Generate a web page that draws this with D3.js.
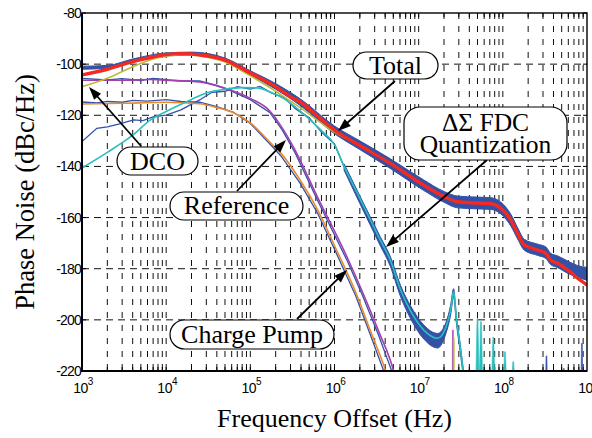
<!DOCTYPE html>
<html><head><meta charset="utf-8">
<script src="https://cdn.jsdelivr.net/npm/d3@7"></script>
<style>
html,body{margin:0;padding:0;background:#fff;}
svg{display:block;}
</style></head><body>
<svg id="c" width="592" height="438"></svg>
<script>
// ---------------- DATA (frequency in Hz, phase noise in dBc/Hz) ----------------
const xTickExponents = [3,4,5,6,7,8,9];
const yTickValues = [-80,-100,-120,-140,-160,-180,-200,-220];

// Total (red, analytical)
const totalNoise = [[1e3,-104.2],[2e3,-102],[4e3,-99],[7e3,-97.2],[1e4,-96.3],[1.5e4,-95.9],[2.5e4,-96.4],[5e4,-98.4],[1e5,-103.5],[2e5,-108.8],[3e5,-112.8],[4e5,-115],[6e5,-119.8],[1e6,-125.8],[2e6,-131.8],[4.6e6,-138.8],[1.15e7,-147.3],[2e7,-151.8],[2.9e7,-153.8],[5e7,-154.3],[7.2e7,-154.6],[9.5e7,-156.4],[1.25e8,-161],[1.5e8,-166.2],[1.8e8,-170.7],[2.6e8,-172.7],[3.25e8,-174],[3.7e8,-176.6],[4.5e8,-177.9],[5.9e8,-180.5],[7.8e8,-183.8],[1e9,-186.4]];
// DCO (olive)
const dcoNoise = [[1e3,-108.8],[2e3,-105.5],[4e3,-101],[7e3,-98],[1e4,-96.9],[1.5e4,-96.3],[2.5e4,-96.8],[5e4,-99.2],[1e5,-104.6],[2e5,-110.6],[3e5,-114.5],[4e5,-117.2],[6e5,-121.5],[1e6,-126.6],[1.4e6,-129.2]];
// Delta-Sigma FDC quantization (cyan)
const quantNoise = [[1e3,-140.6],[2e3,-134.5],[4e3,-127.8],[6.4e3,-122],[1e4,-118.5],[2e4,-113.8],[3e4,-111.3],[5e4,-109.8],[8e4,-109.2],[1.2e5,-109.3],[1.7e5,-110.8],[2.5e5,-113.5],[3.5e5,-117],[5e5,-121.5],[7e5,-126],[1e6,-131.5],[1.3e6,-140],[2e6,-152.5],[3.5e6,-168.8],[4.6e6,-176.6],[6.1e6,-188.3],[8e6,-196.5],[1.15e7,-204],[1.68e7,-207.2],[2.1e7,-203],[2.4e7,-196],[2.6e7,-189],[2.8e7,-199],[3.1e7,-210],[3.5e7,-224]];
// Reference (purple)
const refNoise = [[1e3,-106.3],[3e3,-106.3],[6.4e3,-106],[1e4,-106.3],[2.5e4,-107],[4e4,-108.5],[5.8e4,-110.1],[1e5,-113.4],[1.7e5,-118.3],[2.4e5,-125],[3.4e5,-133.6],[6.2e5,-151.6],[1.43e6,-175.9],[2.15e6,-189.1],[3.34e6,-204.4],[5.04e6,-220],[5.6e6,-226]];
// Charge pump (orange)
const cpNoise = [[1e3,-115.6],[3e3,-115.3],[1e4,-114.9],[2.5e4,-115.5],[4e4,-117],[6.3e4,-119],[1e5,-123],[1.8e5,-131.3],[2.3e5,-134.8],[3.9e5,-145.3],[6.3e5,-157],[1.03e6,-171.9],[1.78e6,-189.1],[2.68e6,-204.4],[4.05e6,-220],[4.5e6,-225]];

// Simulated (blue) traces
const totalSimBand = [[1e3,-100.8,-102],[2e3,-100.5,-101.6],[4e3,-98,-99.2],[1e4,-95.6,-96.8],[2e4,-95.3,-96.5],[5e4,-97.6,-99],[1e5,-102.6,-104.2],[2e5,-107.6,-109.8],[4e5,-113.8,-116.4],[1e6,-124.2,-127.2],[2e6,-130,-133.4],[4.6e6,-137,-140.8],[1.15e7,-145.3,-149.4],[2e7,-149.8,-154],[2.9e7,-151.6,-156.2],[5e7,-152,-156.6],[7.2e7,-152.2,-156.8],[9.5e7,-154,-158.6],[1.25e8,-158.8,-163.4],[1.5e8,-164,-168.4],[1.8e8,-168.5,-172.8],[2.6e8,-170.4,-174.8],[3.25e8,-171.5,-176],[3.7e8,-174,-178.4],[4.5e8,-175,-179.6],[5.9e8,-177,-181.8],[7.8e8,-178.8,-183.4],[1e9,-179.5,-184.5]];
const quantSim = [[1e3,-130.3],[1.5e3,-125.1],[2e3,-124.5],[2.8e3,-123.4],[4.1e3,-121.8],[5.3e3,-122.1],[7e3,-120.6],[1e4,-119.9],[1.5e4,-117.9],[2.5e4,-114],[3.5e4,-111],[5e4,-110.6],[7e4,-108.8],[1e5,-109.8],[1.3e5,-108.7],[1.8e5,-111.3],[2.5e5,-113],[3.5e5,-117.6],[5e5,-121],[7e5,-126.6],[1e6,-131.2],[1.3e6,-140.2]];
const quantSimBand = [[1.3e6,-139,-141.5],[2e6,-151.5,-154.5],[3.5e6,-167.5,-171],[4.6e6,-175.2,-179],[6.1e6,-186.6,-191],[8e6,-194.5,-199.5],[1.15e7,-202,-207.5],[1.68e7,-205.3,-211],[2.1e7,-201.2,-205.5],[2.4e7,-194.2,-198],[2.6e7,-187.8,-191],[2.8e7,-198,-201],[3.1e7,-209,-212],[3.5e7,-223,-226]];
const refSim = [[1e3,-105.6],[2e3,-106.2],[3e3,-105.7],[5e3,-106.4],[7e3,-105.6],[1e4,-106.1],[1.5e4,-106.6],[2.5e4,-106.6],[4e4,-108.3],[5.8e4,-110.4],[1e5,-113.9],[1.7e5,-118.9],[2.4e5,-125.8],[3.4e5,-134.6],[6.2e5,-152.8],[1.43e6,-177.2],[2.15e6,-190.5],[3.34e6,-206],[5.04e6,-222],[5.6e6,-226]];
const cpSim = [[1e3,-114.8],[1.5e3,-115.2],[2e3,-114.6],[3e3,-114.9],[4e3,-114.2],[6e3,-114.5],[1e4,-113.9],[1.5e4,-114.6],[2.5e4,-114.9],[4e4,-116.6],[6.3e4,-118.8],[1e5,-123.2],[1.8e5,-132],[2.3e5,-135.8],[3.9e5,-146.5],[6.3e5,-158.3],[1.03e6,-173.3],[1.78e6,-190.5],[2.68e6,-206],[4.05e6,-222],[4.5e6,-226]];

// Spurs (frequency, peak level)
const quantSpurs = [[5.0e7,-199.4],[5.5e7,-200.7],[7.7e7,-206.8],[1.06e8,-212.5],[1.33e8,-216.4]];
const simSpurs = [[3.3e8,-214.1],[5.3e8,-219],[8.7e8,-209.2]];
const refSpurs = [[2.55e7,-204]];
const dcoSpurs = [[2.62e7,-207]];

// Callout labels
const labelTotal = "Total";
const labelQuant = ["\u0394\u03A3 FDC","Quantization"];
const labelDCO = "DCO";
const labelRef = "Reference";
const labelCP = "Charge Pump";
const xTitle = "Frequency Offset (Hz)";
const yTitle = "Phase Noise (dBc/Hz)";

// ---------------- DRAWING ----------------
const svg = d3.select('#c');
const L = 82, R = 587, T = 13, B = 371;
const x = d3.scaleLog().domain([1e3,1e9]).range([L,R]);
const y = d3.scaleLinear().domain([-220,-80]).range([B,T]);

const C = {red:'#f42a22', blue:'#3351a6', olive:'#bcbc3c', cyan:'#2abfbf', purple:'#a43fb0', orange:'#ea8a2e'};
const sans = 'Arial, "Liberation Sans", Helvetica, sans-serif';
const serif = '"Liberation Serif", "Times New Roman", Times, serif';

svg.append('rect').attr('width',592).attr('height',438).attr('fill','#fff');

svg.append('defs').append('clipPath').attr('id','plotclip')
  .append('rect').attr('x',L).attr('y',T).attr('width',R-L).attr('height',B-T);

// grid
const grid = svg.append('g').attr('stroke','#111').attr('stroke-width',1).attr('fill','none');
const minorF = [];
for (let e=3;e<9;e++) for (let m=1;m<10;m++){ const f=m*Math.pow(10,e); if(f>1e3 && f<1e9) minorF.push(f); }
grid.selectAll('line.v').data(minorF).join('line')
  .attr('x1',d=>x(d)).attr('x2',d=>x(d)).attr('y1',T).attr('y2',B)
  .attr('stroke-dasharray','6,7');
grid.selectAll('line.h').data(yTickValues.filter(v=>v>-220&&v<-80)).join('line')
  .attr('x1',L).attr('x2',R).attr('y1',d=>y(d)).attr('y2',d=>y(d))
  .attr('stroke-dasharray','7,5');

// inner ticks
const ticks = svg.append('g').attr('stroke','#000').attr('stroke-width',1);
ticks.selectAll('line.bt').data(minorF).join('line')
  .attr('x1',d=>x(d)).attr('x2',d=>x(d)).attr('y1',B).attr('y2',B-4);
ticks.selectAll('line.tt').data(minorF).join('line')
  .attr('x1',d=>x(d)).attr('x2',d=>x(d)).attr('y1',T).attr('y2',T+4);
ticks.selectAll('line.lt').data(yTickValues).join('line')
  .attr('x1',L).attr('x2',L+4).attr('y1',d=>y(d)).attr('y2',d=>y(d));
ticks.selectAll('line.rt').data(yTickValues).join('line')
  .attr('x1',R).attr('x2',R-4).attr('y1',d=>y(d)).attr('y2',d=>y(d));

// curves
const plot = svg.append('g').attr('clip-path','url(#plotclip)');
const line = d3.line().x(d=>x(d[0])).y(d=>y(d[1])).curve(d3.curveMonotoneX);
const band = d3.area().x(d=>x(d[0])).y0(d=>y(d[2])).y1(d=>y(d[1])).curve(d3.curveMonotoneX);
const lin = d3.line().x(d=>x(d[0])).y(d=>y(d[1]));

function spurs(data, color, hw){
  plot.selectAll(null).data(data).join('path')
    .attr('d', d => {
      const cx = x(d[0]);
      return `M${cx-hw},${y(-226)}L${cx-0.4},${y(d[1])}L${cx+0.4},${y(d[1])}L${cx+hw},${y(-226)}Z`;
    })
    .attr('fill', color).attr('stroke', color).attr('stroke-width',0.6);
}

// simulated traces (blue)
plot.append('path').datum(totalSimBand).attr('d',band).attr('fill',C.blue).attr('stroke',C.blue).attr('stroke-width',1);
plot.append('path').datum(quantSimBand).attr('d',band).attr('fill',C.blue).attr('stroke',C.blue).attr('stroke-width',1);
[quantSim, refSim, cpSim].forEach(s=>{
  plot.append('path').datum(s).attr('d',lin).attr('fill','none').attr('stroke',C.blue).attr('stroke-width',1.3);
});
spurs(simSpurs, C.blue, 0.9);

// analytical components
plot.append('path').datum(cpNoise).attr('d',line).attr('fill','none').attr('stroke',C.orange).attr('stroke-width',1.6);
plot.append('path').datum(refNoise).attr('d',line).attr('fill','none').attr('stroke',C.purple).attr('stroke-width',1.6);
plot.append('path').datum(dcoNoise).attr('d',line).attr('fill','none').attr('stroke',C.olive).attr('stroke-width',1.6);
plot.append('path').datum(quantNoise).attr('d',line).attr('fill','none').attr('stroke',C.cyan).attr('stroke-width',1.6);
spurs(quantSpurs, C.cyan, 1.8);
spurs(refSpurs, C.purple, 0.6);
spurs(dcoSpurs, C.olive, 0.6);
plot.append('path').datum(totalNoise).attr('d',line).attr('fill','none').attr('stroke',C.red).attr('stroke-width',3.4);

// frame
svg.append('rect').attr('x',L).attr('y',T).attr('width',R-L).attr('height',B-T)
  .attr('fill','none').attr('stroke','#000').attr('stroke-width',1.4);
svg.append('path').attr('d',`M${L},${T}V${B}H${R}`).attr('fill','none').attr('stroke','#000').attr('stroke-width',2);

// tick labels
svg.append('g').selectAll('text').data(yTickValues).join('text')
  .attr('x',L-1).attr('y',d=>y(d)).attr('dy','0.36em')
  .attr('text-anchor','end').attr('font-family',sans).attr('font-size',14)
  .attr('letter-spacing','-0.8').attr('fill','#000').text(d=>d);
const xl = svg.append('g').selectAll('text').data(xTickExponents).join('text')
  .attr('x',d=>x(Math.pow(10,d))+1).attr('y',393)
  .attr('text-anchor','middle').attr('font-family',sans).attr('font-size',14)
  .attr('letter-spacing','-0.5').attr('fill','#000');
xl.append('tspan').text('10');
xl.append('tspan').attr('dy',-8).attr('font-size',10).text(d=>d);

// axis titles
svg.append('text').attr('x',(L+R)/2).attr('y',427).attr('text-anchor','middle')
  .attr('font-family',serif).attr('font-size',26).text(xTitle);
svg.append('text').attr('transform','translate(34,192) rotate(-90)').attr('text-anchor','middle')
  .attr('font-family',serif).attr('font-size',26.5).text(yTitle);

// callouts
const ann = svg.append('g');
function arrow(x1,y1,x2,y2){
  const dx=x2-x1, dy=y2-y1, len=Math.hypot(dx,dy), ux=dx/len, uy=dy/len;
  const hl=13, hw=4.6, bx=x2-ux*hl, by=y2-uy*hl;
  ann.append('line').attr('x1',x1).attr('y1',y1).attr('x2',bx+ux*2).attr('y2',by+uy*2)
    .attr('stroke','#000').attr('stroke-width',1.8);
  ann.append('path').attr('d',`M${x2},${y2}L${bx-uy*hw},${by+ux*hw}L${bx+uy*hw},${by-ux*hw}Z`).attr('fill','#000');
}
function box(x0,y0,x1,y1,lines,baselines,fs){
  const h=y1-y0;
  ann.append('rect').attr('x',x0).attr('y',y0).attr('width',x1-x0).attr('height',h)
    .attr('rx',Math.min(h/2,16)).attr('ry',Math.min(h/2,16))
    .attr('fill','#fff').attr('stroke','#000').attr('stroke-width',1.2);
  lines.forEach((t,i)=>{
    ann.append('text').attr('x',(x0+x1)/2).attr('y',baselines[i]).attr('text-anchor','middle')
      .attr('font-family',serif).attr('font-size',fs||26).text(t);
  });
}
arrow(395,81,338,131);
box(353,52,438,79,[labelTotal],[74]);
arrow(487,160,386,247);
box(404,107,567,160,labelQuant,[131,153],25.5);
arrow(141,146,89,87);
box(117,147,198,175,[labelDCO],[170]);
arrow(237,191,286,140);
box(170,192,303,220,[labelRef],[214]);
arrow(297,319,347,270);
box(170,320,334,349,[labelCP],[343]);
</script>
</body></html>
